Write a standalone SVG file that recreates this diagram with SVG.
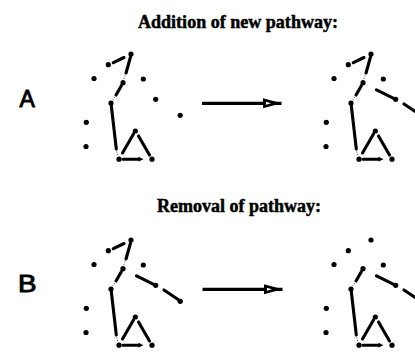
<svg xmlns="http://www.w3.org/2000/svg" width="415" height="354" viewBox="0 0 415 354">
<style>
.dot{fill:#000}
.edge{fill:none;stroke:#000;stroke-width:3.1;stroke-linecap:round}
.thin{fill:none;stroke:#000;stroke-width:0.7;stroke-dasharray:1 1.6}
.tip{fill:#000}
.title{font-family:"Liberation Serif",serif;font-weight:bold;fill:#000;stroke:#000;stroke-width:0.5}
.lbl{font-family:"Liberation Sans",Arial,sans-serif;font-size:23px;fill:#000;stroke:#000;stroke-width:0.9}
.arrow{fill:none;stroke:#000;stroke-width:3.3}
circle.dot{r:2.6px}
</style>
<defs>
<marker id="ah" markerUnits="userSpaceOnUse" markerWidth="20" markerHeight="12" refX="17" refY="5" orient="auto" viewBox="0 0 18 10">
<path d="M0,0.4 L17,5 L0,9.6 Z" fill="#000"/>
<path d="M3,3.7 L7.5,5 L3,6.3 Z" fill="#fff"/>
</marker>
</defs>
<rect width="415" height="354" fill="#fff"/>
<text class="title" x="138" y="28.3" font-size="19" textLength="200" lengthAdjust="spacingAndGlyphs">Addition of new pathway:</text>
<text class="title" x="157" y="211.5" font-size="18" textLength="164" lengthAdjust="spacingAndGlyphs">Removal of pathway:</text>
<text class="lbl" x="19.5" y="107.3">A</text>
<text class="lbl" x="18" y="291.7" textLength="18.5" lengthAdjust="spacingAndGlyphs">B</text>

<g id="connectors">
  <g id="edges-A-left">
    <path class="edge" d="M113.3,62.7 L124,57.5 M130.5,57 L126,73 M121.5,85.5 L116,95 M111.3,105.5 L116.3,149 M133.5,134 L122.5,153 M138.5,136 L149.5,155 M123,159.2 L139,159.2"/>
    <polygon class="tip" points="138.5,156.8 143.5,159.2 138.5,161.6"/>
    <path class="thin" d="M126,73 L123.5,80 M116,95 L112.5,100.5 M116.3,149 L117.8,156"/>
  </g>
  <g id="edges-A-right" transform="translate(240,0)">
    <path class="edge" d="M113.3,62.7 L124,57.5 M130.5,57 L126,73 M121.5,85.5 L116,95 M111.3,105.5 L116.3,149 M133.5,134 L122.5,153 M138.5,136 L149.5,155 M123,159.2 L139,159.2"/>
    <polygon class="tip" points="138.5,156.8 143.5,159.2 138.5,161.6"/>
    <path class="thin" d="M126,73 L123.5,80 M116,95 L112.5,100.5 M116.3,149 L117.8,156"/>
    <path class="edge" d="M136.5,89.8 L155.7,99.3 M164,104 L181,115.5"/>
  </g>
  <g id="edges-B-left" transform="translate(0,186)">
    <path class="edge" d="M113.3,62.7 L124,57.5 M130.5,57 L126,73 M121.5,85.5 L116,95 M111.3,105.5 L116.3,149 M133.5,134 L122.5,153 M138.5,136 L149.5,155 M123,159.2 L139,159.2"/>
    <polygon class="tip" points="138.5,156.8 143.5,159.2 138.5,161.6"/>
    <path class="thin" d="M126,73 L123.5,80 M116,95 L112.5,100.5 M116.3,149 L117.8,156"/>
    <path class="edge" d="M136.5,89.8 L155.7,99.3 M164,104 L181,115.5"/>
  </g>
  <g id="edges-B-right" transform="translate(240,186)">
    <path class="edge" d="M121.5,85.5 L116,95 M111.3,105.5 L116.3,149 M133.5,134 L122.5,153 M138.5,136 L149.5,155 M123,159.2 L139,159.2"/>
    <polygon class="tip" points="138.5,156.8 143.5,159.2 138.5,161.6"/>
    <path class="thin" d="M116,95 L112.5,100.5 M116.3,149 L117.8,156"/>
    <path class="edge" d="M136.5,89.8 L155.7,99.3 M164,104 L181,115.5"/>
  </g>
  <g id="transition-arrows">
    <line class="arrow" x1="202" y1="103.3" x2="281.5" y2="103.3" marker-end="url(#ah)"/>
    <line class="arrow" x1="202.5" y1="289.3" x2="282.5" y2="289.3" marker-end="url(#ah)"/>
  </g>
</g>

<g id="nodes-A-left">
  <g id="A1"><circle class="dot" cx="131" cy="54" r="2.6"/></g>
  <g id="A2"><circle class="dot" cx="108.3" cy="64.7" r="2.6"/></g>
  <g id="A3"><circle class="dot" cx="94" cy="78.5" r="2.6"/></g>
  <g id="A4"><circle class="dot" cx="123" cy="82.7" r="2.6"/></g>
  <g id="A5"><circle class="dot" cx="143.3" cy="79" r="2.6"/></g>
  <g id="A6"><circle class="dot" cx="155.7" cy="99.3" r="2.6"/></g>
  <g id="A7"><circle class="dot" cx="111" cy="103" r="2.6"/></g>
  <g id="A8"><circle class="dot" cx="180.2" cy="115.3" r="2.6"/></g>
  <g id="A9"><circle class="dot" cx="86.3" cy="122.3" r="2.6"/></g>
  <g id="A10"><circle class="dot" cx="135.3" cy="131" r="2.6"/></g>
  <g id="A11"><circle class="dot" cx="86" cy="146.5" r="2.6"/></g>
  <g id="A12"><circle class="dot" cx="119" cy="159.2" r="2.6"/></g>
  <g id="A13"><circle class="dot" cx="152" cy="159.2" r="2.6"/></g>
</g>
<g id="nodes-A-right">
  <g id="Ar1"><circle class="dot" cx="371" cy="54" r="2.6"/></g>
  <g id="Ar2"><circle class="dot" cx="348.3" cy="64.7" r="2.6"/></g>
  <g id="Ar3"><circle class="dot" cx="334" cy="78.5" r="2.6"/></g>
  <g id="Ar4"><circle class="dot" cx="363" cy="82.7" r="2.6"/></g>
  <g id="Ar5"><circle class="dot" cx="383.3" cy="79" r="2.6"/></g>
  <g id="Ar6"><circle class="dot" cx="395.7" cy="99.3" r="2.6"/></g>
  <g id="Ar7"><circle class="dot" cx="351" cy="103" r="2.6"/></g>
  <g id="Ar9"><circle class="dot" cx="326.3" cy="122.3" r="2.6"/></g>
  <g id="Ar10"><circle class="dot" cx="375.3" cy="131" r="2.6"/></g>
  <g id="Ar11"><circle class="dot" cx="326" cy="146.5" r="2.6"/></g>
  <g id="Ar12"><circle class="dot" cx="359" cy="159.2" r="2.6"/></g>
  <g id="Ar13"><circle class="dot" cx="392" cy="159.2" r="2.6"/></g>
</g>
<g id="nodes-B-left">
  <g id="B1"><circle class="dot" cx="131" cy="240" r="2.6"/></g>
  <g id="B2"><circle class="dot" cx="108.3" cy="250.7" r="2.6"/></g>
  <g id="B3"><circle class="dot" cx="94" cy="264.5" r="2.6"/></g>
  <g id="B4"><circle class="dot" cx="123" cy="268.7" r="2.6"/></g>
  <g id="B5"><circle class="dot" cx="143.3" cy="265" r="2.6"/></g>
  <g id="B6"><circle class="dot" cx="155.7" cy="285.3" r="2.6"/></g>
  <g id="B7"><circle class="dot" cx="111" cy="289" r="2.6"/></g>
  <g id="B8"><circle class="dot" cx="180.2" cy="301.3" r="2.6"/></g>
  <g id="B9"><circle class="dot" cx="86.3" cy="308.3" r="2.6"/></g>
  <g id="B10"><circle class="dot" cx="135.3" cy="317" r="2.6"/></g>
  <g id="B11"><circle class="dot" cx="86" cy="332.5" r="2.6"/></g>
  <g id="B12"><circle class="dot" cx="119" cy="345.2" r="2.6"/></g>
  <g id="B13"><circle class="dot" cx="152" cy="345.2" r="2.6"/></g>
</g>
<g id="nodes-B-right">
  <g id="Br1"><circle class="dot" cx="371" cy="240" r="2.6"/></g>
  <g id="Br2"><circle class="dot" cx="348.3" cy="250.7" r="2.6"/></g>
  <g id="Br3"><circle class="dot" cx="334" cy="264.5" r="2.6"/></g>
  <g id="Br4"><circle class="dot" cx="363" cy="268.7" r="2.6"/></g>
  <g id="Br5"><circle class="dot" cx="383.3" cy="265" r="2.6"/></g>
  <g id="Br6"><circle class="dot" cx="395.7" cy="285.3" r="2.6"/></g>
  <g id="Br7"><circle class="dot" cx="351" cy="289" r="2.6"/></g>
  <g id="Br9"><circle class="dot" cx="326.3" cy="308.3" r="2.6"/></g>
  <g id="Br10"><circle class="dot" cx="375.3" cy="317" r="2.6"/></g>
  <g id="Br11"><circle class="dot" cx="326" cy="332.5" r="2.6"/></g>
  <g id="Br12"><circle class="dot" cx="359" cy="345.2" r="2.6"/></g>
  <g id="Br13"><circle class="dot" cx="392" cy="345.2" r="2.6"/></g>
</g>
</svg>
